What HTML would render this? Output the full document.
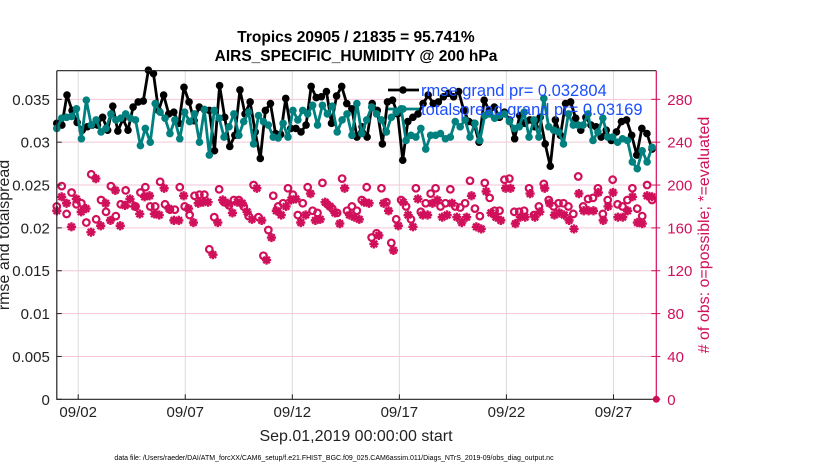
<!DOCTYPE html>
<html><head><meta charset="utf-8"><style>
html,body{margin:0;padding:0;background:#fff;}
svg{display:block;font-family:"Liberation Sans",Arial,sans-serif;}
</style></head><body>
<svg id="chart" width="830" height="470" viewBox="0 0 830 470" xmlns="http://www.w3.org/2000/svg">
<text x="356" y="42" text-anchor="middle" font-size="15.5" font-weight="bold" fill="#000">Tropics 20905 / 21835 = 95.741%</text>
<text x="356" y="61" text-anchor="middle" font-size="15.5" font-weight="bold" fill="#000">AIRS_SPECIFIC_HUMIDITY @ 200 hPa</text>
<g id="grid"></g>
<g id="marks"></g>
<g id="axes"></g>
<text transform="translate(9,235) rotate(-90)" text-anchor="middle" font-size="16" fill="#222">rmse and totalspread</text>
<text transform="translate(709,235) rotate(-90)" text-anchor="middle" font-size="16" fill="#d0105a"># of obs: o=possible; *=evaluated</text>
<text x="356" y="441" text-anchor="middle" font-size="16" fill="#222">Sep.01,2019 00:00:00 start</text>
<text x="334" y="460" text-anchor="middle" font-size="7" fill="#000">data file: /Users/raeder/DAI/ATM_forcXX/CAM6_setup/f.e21.FHIST_BGC.f09_025.CAM6assim.011/Diags_NTrS_2019-09/obs_diag_output.nc</text>
<g id="legend"></g>
</svg>
<script>
const rmse=[322,320,355,337,323,314,318,320,320,329,314,342,313,327,314,341,347,348,384,380,337,355,333,335,322,364,347,325,341,338,337,
290,366,329,295,308,361,333,347,312,281,337,345,310,309,351,316,316,312,320,365,352,353,359,322,354,365,345,339,
306,318,306,345,337,298,347,349,333,279,324,329,333,345,355,345,347,353,357,353,359,337,324,322,300,349,337,341,329,335,
326,304,331,322,326,318,329,298,272,326,308,345,347,328,314,329,320,318,306,314,302,312,324,326,308,285,316,310,292];
const spread=[316,328,329,330,339,304,349,320,326,312,316,333,326,328,333,328,326,296,316,300,345,335,328,310,326,304,335,324,333,300,338,
285,337,328,306,318,333,308,324,335,298,331,324,320,306,305,322,306,337,326,337,333,343,320,343,333,342,312,326,333,308,
345,310,326,341,333,326,312,329,335,339,302,308,306,316,292,308,308,310,304,306,324,318,326,306,322,302,331,333,328,331,333,
324,316,318,335,306,326,306,351,318,314,312,298,333,320,320,320,333,302,312,328,306,306,300,304,302,277,269,290,277,294];
const possible=[180,199,173,193,182,183,165,210,168,186,175,199,171,182,195,183,180,193,198,180,180,203,182,177,177,198,180,172,190,191,
191,140,170,196,184,181,186,186,180,171,200,170,134,158,190,180,183,197,191,172,183,198,176,174,202,182,178,174,206,176,180,
176,186,198,151,155,197,184,146,168,186,180,168,197,175,183,192,197,180,183,196,180,179,183,204,178,171,202,188,176,176,205,
206,175,175,176,197,172,180,201,186,180,183,183,180,173,208,180,187,188,197,173,186,205,182,180,186,197,178,171,200,186];
const evaluated=[176,189,183,161,187,175,178,156,206,162,183,167,195,162,181,187,180,173,189,190,173,172,197,178,167,167,190,178,165,183,184,
184,135,165,186,183,174,184,183,175,168,197,167,130,151,176,172,180,186,187,165,172,192,167,168,184,180,174,164,197,172,170,
168,184,183,145,153,183,176,139,162,184,172,161,187,172,172,183,186,170,172,183,170,165,170,190,161,159,194,174,170,167,197,
197,164,170,170,192,170,175,197,183,172,174,172,167,159,192,176,176,176,193,167,180,193,170,170,176,189,165,164,190,189];
const leftTicks=[0,0.005,0.01,0.015,0.02,0.025,0.03,0.035];
const leftTickLabels=["0","0.005","0.01","0.015","0.02","0.025","0.03","0.035"];
const rightTicks=[0,40,80,120,160,200,240,280];
const xTickDays=[1,6,11,16,21,26];
const xTickLabels=["09/02","09/07","09/12","09/17","09/22","09/27"];
const legendLabels=["rmse grand pr= 0.032804","totalspread grand pr= 0.03169"];

const NS="http://www.w3.org/2000/svg";
const X0=56.8,X1=656.3,Y0=399.3,Y1=70.7,DAYS=28,YMAX=0.03834,LASTDAY=27.8;
const xs=d=>X0+(X1-X0)*d/DAYS;
const yL=v=>Y0-(Y0-Y1)*v/YMAX;
const yR=c=>yL(c/8000);
const dayOf=(i,n)=>i*LASTDAY/(n-1);
function mk(tag,attrs,parent){const e=document.createElementNS(NS,tag);for(const k in attrs)e.setAttribute(k,attrs[k]);parent.appendChild(e);return e;}
const grid=document.getElementById('grid'),marks=document.getElementById('marks'),axes=document.getElementById('axes'),legend=document.getElementById('legend');
const MAG="#d0105a",TEAL="#00807f";

xTickDays.forEach(d=>{const l=mk('line',{x1:xs(d),x2:xs(d),y1:Y1,y2:Y0,stroke:'#dcdcdc','stroke-width':1},grid);

});
rightTicks.forEach(c=>{if(c===0)return;const l=mk('line',{x1:X0,x2:X1,y1:yR(c),y2:yR(c),stroke:'#f4c6d8','stroke-width':1},grid);

});

function star(cx,cy,g){const r=4.6;let d='';for(let a=0;a<4;a++){const t=a*Math.PI/4;d+=`M${cx-r*Math.cos(t)} ${cy-r*Math.sin(t)}L${cx+r*Math.cos(t)} ${cy+r*Math.sin(t)}`;}
return mk('path',{d:d,stroke:MAG,'stroke-width':2.4,fill:'none'},g);}
possible.forEach((c,i)=>{const e=mk('circle',{cx:xs(dayOf(i,possible.length)),cy:yR(c),r:3.3,fill:'none',stroke:MAG,'stroke-width':2.2},marks);

});
evaluated.forEach((c,i)=>{const e=star(xs(dayOf(i,evaluated.length)),yR(c),marks);

});

function series(arr,color,name){
  const pts=arr.map((v,i)=>[xs(dayOf(i,arr.length)),yL(v/10000)]);
  const p=mk('polyline',{points:pts.map(p=>p.join(',')).join(' '),fill:'none',stroke:color,'stroke-width':2.8,'stroke-linejoin':'round'},marks);
  
  
  pts.forEach(q=>{const c=mk('circle',{cx:q[0],cy:q[1],r:3.8,fill:color},marks);
  
  });
}
series(rmse,'#000','rmse');
series(spread,TEAL,'totalspread');

const zm=mk('circle',{cx:X1,cy:Y0,r:3.5,fill:MAG},axes);



const ax=mk('path',{d:`M${X0} ${Y1}L${X0} ${Y0}L${X1} ${Y0}M${X0} ${Y1}L${X1} ${Y1}`,stroke:'#222','stroke-width':1.2,fill:'none'},axes);


const rax=mk('line',{x1:X1,x2:X1,y1:Y1,y2:Y0,stroke:MAG,'stroke-width':1.2},axes);


leftTicks.forEach((v,i)=>{const y=yL(v);
 const t=mk('line',{x1:X0,x2:X0+5,y1:y,y2:y,stroke:'#222'},axes);
 
 
 const tx=mk('text',{x:X0-7,y:y+5.5,'text-anchor':'end','font-size':15,fill:'#222'},axes);tx.textContent=leftTickLabels[i];
 
 });
rightTicks.forEach(c=>{const y=yR(c);
 const t=mk('line',{x1:X1-5,x2:X1+4,y1:y,y2:y,stroke:MAG},axes);
 
 
 const tx=mk('text',{x:X1+11,y:y+5.5,'font-size':15,fill:MAG},axes);tx.textContent=String(c);
 
 });
xTickDays.forEach((d,i)=>{const x=xs(d);
 const t=mk('line',{x1:x,x2:x,y1:Y0,y2:Y0-5,stroke:'#222'},axes);
 
 
 const tx=mk('text',{x:x,y:417,'text-anchor':'middle','font-size':15,fill:'#222'},axes);tx.textContent=xTickLabels[i];
 
 });

[['#000',90],[TEAL,109]].forEach((s,i)=>{
 const l=mk('line',{x1:388,x2:419,y1:s[1],y2:s[1],stroke:s[0],'stroke-width':2.8},legend);
 
 
 const c=mk('circle',{cx:403,cy:s[1],r:3.8,fill:s[0]},legend);
 
 
 const t=mk('text',{x:421,y:s[1]+6,'font-size':16.5,fill:'#1a4dff'},legend);t.textContent=legendLabels[i];
 
 });
</script>
</body></html>
